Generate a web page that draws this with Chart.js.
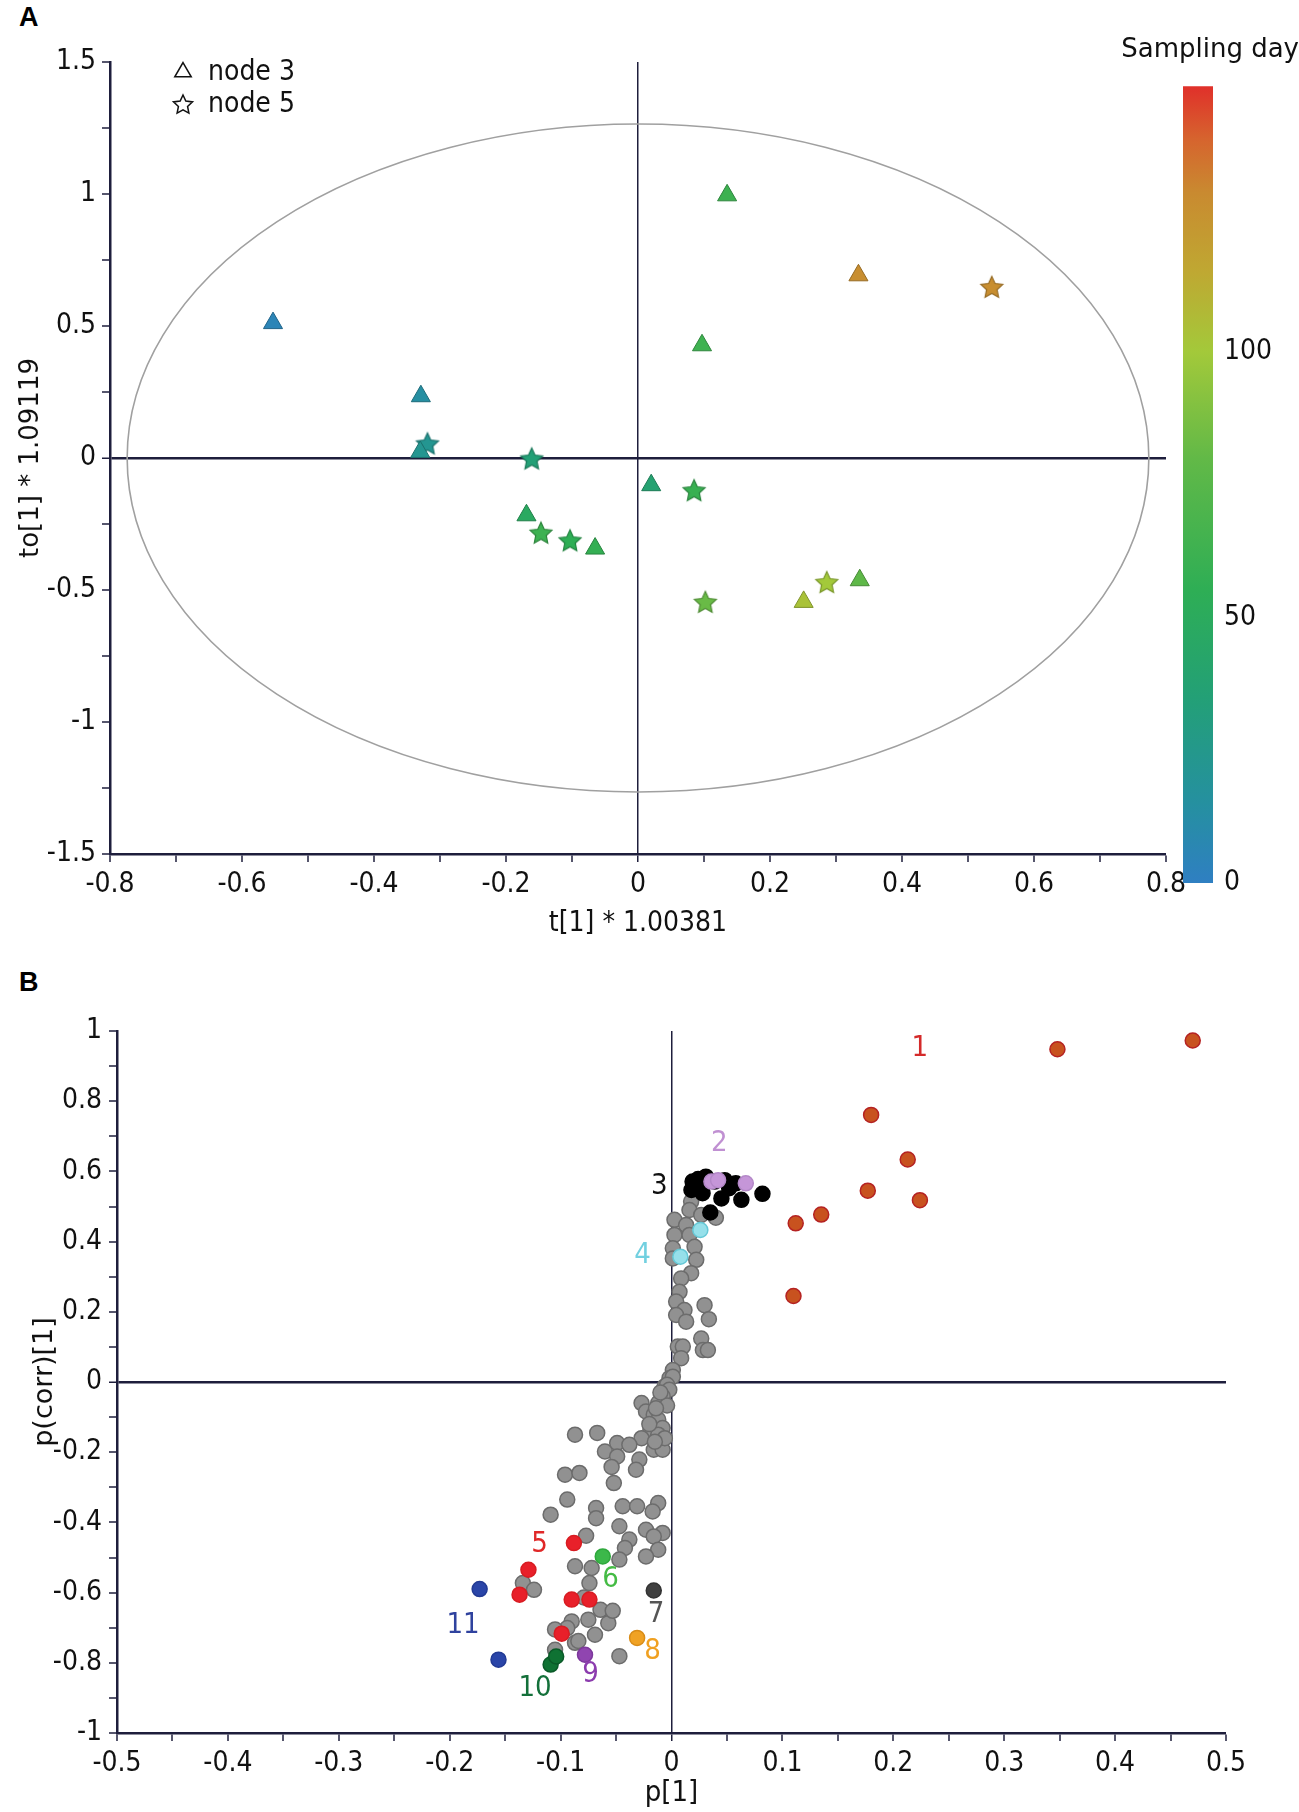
<!DOCTYPE html>
<html>
<head>
<meta charset="utf-8">
<script src="https://cdn.jsdelivr.net/npm/chart.js@4.4.1/dist/chart.umd.min.js"></script>
<style>
  body { margin: 0; background: #fff; width: 1299px; height: 1812px; position: relative; overflow: hidden; }
  canvas { position: absolute; }
  .tag { position: absolute; font: bold 27px "Liberation Sans", Arial, sans-serif; line-height: 1; color: #000; }
</style>
</head>
<body>
<div class="tag" style="left:19px;top:4px">A</div>
<div class="tag" style="left:19px;top:969px">B</div>
<canvas id="scoreChart" width="1299" height="950" style="left:0;top:0"></canvas>
<canvas id="dayBar" width="199" height="920" style="left:1100px;top:0"></canvas>
<canvas id="loadingChart" width="1299" height="852" style="left:0;top:960px"></canvas>
<script>
// ---- Panel A: scores, node 3 (triangles) and node 5 (stars) ----
const node3X = [-0.553, -0.329, -0.330, -0.169, -0.065, 0.020, 0.135, 0.097, 0.334, 0.251, 0.336];
const node3Y = [0.511, 0.234, 0.023, -0.217, -0.343, -0.103, 0.995, 0.427, 0.692, -0.545, -0.463];
const node3Day = [5, 14, 22, 48, 58, 38, 62, 63, 128, 103, 78];

const node5X = [-0.319, -0.161, -0.147, -0.103, 0.085, 0.102, 0.536, 0.286];
const node5Y = [0.055, -0.002, -0.283, -0.312, -0.122, -0.545, 0.648, -0.470];
const node5Day = [22, 35, 62, 55, 60, 82, 128, 100];

// Hotelling ellipse half-axes
const ellipseT = 0.774;
const ellipseTo = 1.265;

// colour scale for sampling day
const dayStops = [0, 15, 35, 55, 80, 100, 115, 130, 140, 150];
const dayColors = ['#2f7fc2', '#2590a0', '#23a076', '#2eae55', '#62b947', '#a3c93a', '#bfa832', '#c98a30', '#d6642e', '#e0302a'];
const dayTicks = [0, 50, 100];
const dayMax = 150;

// ---- Panel B: loadings ----
const grayX = [0.0177, 0.0162, 0.0268, 0.0027, 0.0132, 0.0027, 0.0162, 0.0012, 0.0208, 0.0012, 0.0223, 0.0177,
  0.0087, 0.0072, 0.0042, 0.0117, 0.0042, 0.0132, 0.0298, 0.0337, 0.0057, 0.0102, 0.0087, 0.0268, 0.0283, 0.0328,
  0.0012, -0.0018, -0.0063, -0.0078, 0.0012, 0.040,
  -0.004, -0.002, -0.008, -0.012, -0.027, -0.023, -0.016, -0.004, -0.012, -0.019, -0.008, -0.012, -0.027,
  -0.087, -0.067, -0.049, -0.038, -0.060, -0.016, -0.008, -0.049, -0.029, -0.054, -0.032, -0.096, -0.083, -0.052,
  -0.094, -0.068, -0.044, -0.031, -0.012, -0.017, -0.109, -0.068, -0.047, -0.023, -0.008, -0.077, -0.038, -0.016,
  -0.042, -0.012, -0.023, -0.047, -0.087, -0.072, -0.074, -0.134, -0.124, -0.079, -0.064, -0.075, -0.090, -0.057,
  -0.094, -0.069, -0.087, -0.105, -0.047, -0.010, -0.014, -0.020, -0.006, -0.015, -0.105, -0.084, -0.053];
const grayY = [0.514, 0.490, 0.476, 0.462, 0.447, 0.419, 0.419, 0.381, 0.385, 0.352, 0.348, 0.310,
  0.295, 0.257, 0.229, 0.205, 0.191, 0.172, 0.219, 0.179, 0.101, 0.101, 0.068, 0.124, 0.091, 0.091,
  0.034, 0.011, -0.013, -0.042, 0.015, 0.468,
  -0.008, -0.022, -0.041, -0.060, -0.060, -0.084, -0.093, -0.067, -0.107, -0.136, -0.131, -0.150, -0.160,
  -0.150, -0.145, -0.174, -0.179, -0.198, -0.193, -0.193, -0.212, -0.221, -0.242, -0.250, -0.264, -0.259, -0.288,
  -0.335, -0.359, -0.354, -0.354, -0.345, -0.369, -0.378, -0.388, -0.411, -0.421, -0.430, -0.438, -0.449, -0.440,
  -0.473, -0.478, -0.497, -0.506, -0.525, -0.530, -0.573, -0.573, -0.592, -0.614, -0.649, -0.677, -0.682, -0.687,
  -0.701, -0.720, -0.743, -0.763, -0.781, -0.030, -0.075, -0.120, -0.160, -0.170, -0.705, -0.738, -0.652];

const g1X = [0.470, 0.348, 0.180, 0.213, 0.177, 0.224, 0.135, 0.112, 0.110];
const g1Y = [0.973, 0.948, 0.761, 0.634, 0.545, 0.518, 0.477, 0.452, 0.245];
const g2X = [0.036, 0.042, 0.067];
const g2Y = [0.571, 0.575, 0.566];
const g3X = [0.019, 0.031, 0.025, 0.018, 0.028, 0.048, 0.058, 0.052, 0.045, 0.063, 0.082, 0.035, 0.039, 0.024];
const g3Y = [0.571, 0.585, 0.556, 0.547, 0.538, 0.575, 0.566, 0.552, 0.523, 0.519, 0.536, 0.483, 0.571, 0.578];
const g4X = [0.026, 0.008];
const g4Y = [0.433, 0.357];
const g5X = [-0.088, -0.129, -0.137, -0.090, -0.074, -0.099];
const g5Y = [-0.459, -0.535, -0.606, -0.620, -0.620, -0.717];
const g6X = [-0.062];
const g6Y = [-0.497];
const g7X = [-0.016];
const g7Y = [-0.594];
const g8X = [-0.031];
const g8Y = [-0.729];
const g9X = [-0.078];
const g9Y = [-0.777];
const g10X = [-0.109, -0.104];
const g10Y = [-0.805, -0.782];
const g11X = [-0.173, -0.156];
const g11Y = [-0.590, -0.791];

// group number labels (anchor in data units)
const groupNames = ['1', '2', '3', '4', '5', '6', '7', '8', '9', '10', '11'];
const groupLabelX = [0.224, 0.043, -0.011, -0.026, -0.119, -0.055, -0.014, -0.017, -0.073, -0.123, -0.188];
const groupLabelY = [0.951, 0.679, 0.557, 0.361, -0.463, -0.563, -0.663, -0.767, -0.834, -0.872, -0.693];

// ---- styling ----
const axisColor = '#1e1e3c';
const narrow = '"Liberation Sans Narrow", "DejaVu Sans Condensed", "Liberation Sans", sans-serif';
const wide = '"DejaVu Sans", "Open Sans", sans-serif';
const groupFill = ['#c8521f', '#c596d8', '#000000', '#96e0ea', '#e8202a', '#3cb84a', '#404040', '#f0a224', '#9045b0', '#0f7233', '#2a45a8'];
const groupLine = ['#b52222', '#b488c8', '#000000', '#66c8d6', '#d81c22', '#2ea83c', '#333333', '#d88c18', '#7d389c', '#0a5a28', '#223a94'];
const labelColor = ['#d42a2a', '#c090d2', '#111111', '#72d0e0', '#e02828', '#44bb44', '#555555', '#f0a020', '#8c3cae', '#14703a', '#2f429e'];

function hexRgb(h) {
    return [parseInt(h.slice(1, 3), 16), parseInt(h.slice(3, 5), 16), parseInt(h.slice(5, 7), 16)];
}
function colorAt(day) {
    let i = 0;
    while (i < dayStops.length - 2 && day > dayStops[i + 1]) i++;
    const t = Math.max(0, Math.min(1, (day - dayStops[i]) / (dayStops[i + 1] - dayStops[i])));
    const a = hexRgb(dayColors[i]), b = hexRgb(dayColors[i + 1]);
    return 'rgb(' + a.map((v, k) => Math.round(v + (b[k] - v) * t)).join(',') + ')';
}
function darker(rgb) {
    const v = rgb.match(/\d+/g).map(n => Math.round(n * 0.75));
    return 'rgb(' + v.join(',') + ')';
}
function starPath(g, cx, cy, r) {
    g.beginPath();
    for (let i = 0; i < 10; i++) {
        const rad = i % 2 ? r * 0.48 : r;
        const a = -Math.PI / 2 + i * Math.PI / 5;
        g.lineTo(cx + rad * Math.cos(a), cy + rad * Math.sin(a));
    }
    g.closePath();
}
function starImage(fill, stroke) {
    const c = document.createElement('canvas');
    c.width = c.height = 26;
    const g = c.getContext('2d');
    starPath(g, 13, 14, 11.5);
    g.fillStyle = fill;
    g.fill();
    g.lineWidth = 1.2;
    g.strokeStyle = stroke;
    g.stroke();
    return c;
}
const pts = (xs, ys) => xs.map((v, i) => ({x: v, y: ys[i]}));
const near = (v, step) => Math.abs(v / step - Math.round(v / step)) < 1e-6;
const fmt = v => String(Math.round(v * 100) / 100);
const isZero = v => Math.abs(v) < 1e-9;

function axis(min, max, step, labelStep, width, title, titleFont, titlePad) {
    return {
        type: 'linear', min: min, max: max,
        ticks: {
            stepSize: step, autoSkip: false, maxRotation: 0, padding: 6,
            color: '#111', font: {family: narrow, size: 28},
            callback: v => near(v, labelStep) ? fmt(v) : ''
        },
        grid: {
            drawOnChartArea: true, drawTicks: true, tickLength: 8,
            color: c => isZero(c.tick.value) ? axisColor : 'rgba(0,0,0,0)',
            lineWidth: c => isZero(c.tick.value) ? width : 0,
            tickColor: axisColor, tickWidth: 1.5
        },
        border: {display: true, color: axisColor, width: 2.5},
        title: {display: true, text: title, color: '#111', font: titleFont, padding: titlePad}
    };
}

// ---------------- Chart A ----------------
const ellipsePlugin = {
    id: 'ellipse',
    beforeDatasetsDraw(chart) {
        const {x, y} = chart.scales;
        const ctx = chart.ctx;
        const cx = x.getPixelForValue(0), cy = y.getPixelForValue(0);
        const rx = x.getPixelForValue(ellipseT) - cx;
        const ry = cy - y.getPixelForValue(ellipseTo);
        ctx.save();
        ctx.beginPath();
        ctx.ellipse(cx, cy, rx, ry, 0, 0, Math.PI * 2);
        ctx.strokeStyle = '#a0a0a0';
        ctx.lineWidth = 1.6;
        ctx.stroke();
        ctx.restore();
    }
};
const shapeLegend = {
    id: 'shapeLegend',
    afterDraw(chart) {
        const ctx = chart.ctx;
        const a = chart.chartArea;
        ctx.save();
        ctx.strokeStyle = '#111';
        ctx.fillStyle = '#fff';
        ctx.lineWidth = 1.5;
        Chart.helpers.drawPoint(ctx, {pointStyle: 'triangle', radius: 9.5, borderWidth: 1.5, rotation: 0}, a.left + 73, a.top + 10);
        starPath(ctx, a.left + 73, a.top + 43, 10);
        ctx.fill();
        ctx.stroke();
        ctx.fillStyle = '#111';
        ctx.font = '28px ' + narrow;
        ctx.textBaseline = 'middle';
        ctx.fillText('node 3', a.left + 98, a.top + 11);
        ctx.fillText('node 5', a.left + 98, a.top + 43);
        ctx.restore();
    }
};

const axA_x = axis(-0.8, 0.8, 0.1, 0.2, 1.5, 't[1] * 1.00381', {family: narrow, size: 28}, {top: 0, bottom: 9});
axA_x.afterFit = s => { s.height = 96; };
const axA_y = axis(-1.5, 1.5, 0.25, 0.5, 2.5, 'to[1] * 1.09119', {family: wide, size: 26}, {top: 16, bottom: 0});
axA_y.afterFit = s => { s.width = 110; };

new Chart(document.getElementById('scoreChart'), {
    type: 'scatter',
    data: {
        datasets: [
            {
                label: 'node 3',
                data: pts(node3X, node3Y),
                pointStyle: 'triangle',
                pointRadius: 11,
                backgroundColor: node3Day.map(colorAt),
                borderColor: node3Day.map(d => darker(colorAt(d))),
                borderWidth: 1
            },
            {
                label: 'node 5',
                data: pts(node5X, node5Y),
                pointStyle: node5Day.map(d => starImage(colorAt(d), darker(colorAt(d)))),
                pointRadius: 11
            }
        ]
    },
    options: {
        responsive: false,
        animation: false,
        layout: {padding: {left: 0, right: 133, top: 62, bottom: 0}},
        plugins: {legend: {display: false}, tooltip: {enabled: false}},
        scales: {x: axA_x, y: axA_y}
    },
    plugins: [ellipsePlugin, shapeLegend]
});

// ---------------- Colour bar ----------------
new Chart(document.getElementById('dayBar'), {
    type: 'bar',
    data: {
        labels: [''],
        datasets: [{
            data: [[0, dayMax]],
            xAxisID: 'x',
            yAxisID: 'y',
            barPercentage: 1,
            categoryPercentage: 1,
            borderWidth: 0,
            backgroundColor: c => {
                const y = c.chart.scales.y;
                const area = c.chart.chartArea;
                if (!area || !y) return dayColors[0];
                const y0 = y.getPixelForValue(0), y1 = y.getPixelForValue(dayMax);
                if (!isFinite(y0) || !isFinite(y1)) return dayColors[0];
                const g = c.chart.ctx.createLinearGradient(0, y0, 0, y1);
                dayStops.forEach((d, i) => g.addColorStop(d / dayMax, dayColors[i]));
                return g;
            }
        }]
    },
    options: {
        responsive: false,
        animation: false,
        layout: {padding: {left: 0, right: 0, top: 0, bottom: 37}},
        plugins: {
            legend: {display: false},
            tooltip: {enabled: false},
            title: {
                display: true, text: 'Sampling day', align: 'end', color: '#111',
                font: {family: wide, size: 26, weight: 'normal'},
                padding: {top: 35, bottom: 20}
            }
        },
        scales: {
            x: {display: false},
            y: {
                position: 'right', min: 0, max: dayMax,
                afterBuildTicks: s => { s.ticks = dayTicks.map(v => ({value: v})); },
                afterFit: s => { s.width = 86; },
                ticks: {padding: 11, color: '#111', font: {family: narrow, size: 28}},
                grid: {display: false, drawTicks: false},
                border: {display: false}
            },
            // empty left axis only keeps the bar clear of the title's left side
            spacer: {
                type: 'linear', position: 'left', display: true, min: 0, max: 1,
                ticks: {display: false}, grid: {display: false, drawTicks: false}, border: {display: false},
                afterFit: s => { s.width = 83; }
            }
        }
    }
});

// ---------------- Chart B ----------------
const groupLabels = {
    id: 'groupLabels',
    afterDatasetsDraw(chart) {
        const {x, y} = chart.scales;
        const ctx = chart.ctx;
        ctx.save();
        ctx.font = '29px ' + narrow;
        ctx.textAlign = 'center';
        ctx.textBaseline = 'middle';
        groupNames.forEach((t, i) => {
            ctx.fillStyle = labelColor[i];
            ctx.fillText(t, x.getPixelForValue(groupLabelX[i]), y.getPixelForValue(groupLabelY[i]));
        });
        ctx.restore();
    }
};

const groupsX = [g1X, g2X, g3X, g4X, g5X, g6X, g7X, g8X, g9X, g10X, g11X];
const groupsY = [g1Y, g2Y, g3Y, g4Y, g5Y, g6Y, g7Y, g8Y, g9Y, g10Y, g11Y];
// first dataset is painted last (on top), so the grey cloud goes at the end
const drawOrder = [10, 9, 8, 7, 6, 5, 4, 3, 1, 2, 0];
const bSets = drawOrder.map(k => ({
    label: groupNames[k],
    data: pts(groupsX[k], groupsY[k]),
    pointRadius: 7.5,
    backgroundColor: groupFill[k],
    borderColor: groupLine[k],
    borderWidth: 1.5
})).concat([{
    label: 'other',
    data: pts(grayX, grayY),
    pointRadius: 7.5,
    backgroundColor: '#919191',
    borderColor: '#6c6c6c',
    borderWidth: 1.5
}]);

const axB_x = axis(-0.5, 0.5, 0.05, 0.1, 1.5, 'p[1]', {family: narrow, size: 29}, {top: 0, bottom: 1});
axB_x.afterFit = s => { s.height = 79; };
const axB_y = axis(-1, 1, 0.1, 0.2, 2.5, 'p(corr)[1]', {family: wide, size: 27}, {top: 29, bottom: 0});
axB_y.ticks.padding = 7;
axB_y.afterFit = s => { s.width = 117; };

new Chart(document.getElementById('loadingChart'), {
    type: 'scatter',
    data: {datasets: bSets},
    options: {
        responsive: false,
        animation: false,
        layout: {padding: {left: 0, right: 73, top: 71, bottom: 0}},
        plugins: {legend: {display: false}, tooltip: {enabled: false}},
        scales: {x: axB_x, y: axB_y}
    },
    plugins: [groupLabels]
});
</script>
</body>
</html>
